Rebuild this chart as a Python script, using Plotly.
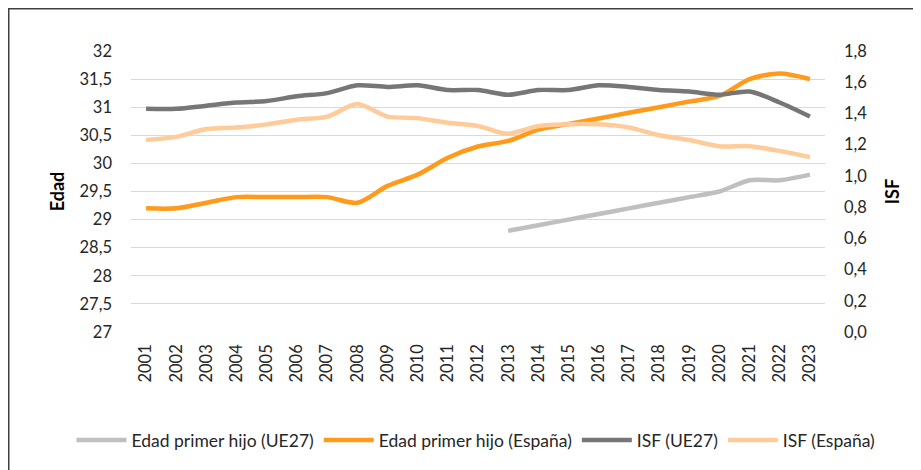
import plotly.graph_objects as go

years = [str(y) for y in range(2001, 2024)]

edad_ue27 = [None]*12 + [28.8, 28.9, 29.0, 29.1, 29.2, 29.3, 29.4, 29.5, 29.7, 29.7, 29.8]
edad_espana = [29.2, 29.2, 29.3, 29.4, 29.4, 29.4, 29.4, 29.3, 29.6, 29.8, 30.1, 30.3,
               30.4, 30.6, 30.7, 30.8, 30.9, 31.0, 31.1, 31.2, 31.5, 31.6, 31.5]
isf_ue27 = [1.43, 1.43, 1.45, 1.47, 1.48, 1.51, 1.53, 1.58, 1.57, 1.58, 1.55, 1.55,
            1.52, 1.55, 1.55, 1.58, 1.57, 1.55, 1.54, 1.52, 1.54, 1.47, 1.38]
isf_espana = [1.23, 1.25, 1.30, 1.31, 1.33, 1.36, 1.38, 1.46, 1.38, 1.37, 1.34, 1.32,
              1.27, 1.32, 1.33, 1.33, 1.31, 1.26, 1.23, 1.19, 1.19, 1.16, 1.12]

FONT = "Lato, Liberation Sans, sans-serif"
W = 4.5
WIDTH, HEIGHT = 921, 470
OFF = 8  # page body offset in the browser
PL, PR, PT, PB = 131 - OFF, 825 - OFF, 51 - OFF, 332 - OFF  # plot area in pixels

def fx(x):
    return x / WIDTH

def fy(y):
    return (HEIGHT - y) / HEIGHT

fig = go.Figure()
fig.add_trace(go.Scatter(x=years, y=edad_ue27, name="Edad primer hijo (UE27)", mode="lines",
                         line=dict(color="#BFBFBF", width=W, shape="spline", smoothing=0.8)))
fig.add_trace(go.Scatter(x=years, y=edad_espana, name="Edad primer hijo (España)", mode="lines",
                         line=dict(color="#FF9A1A", width=W, shape="spline", smoothing=0.8)))
fig.add_trace(go.Scatter(x=years, y=isf_ue27, name="ISF (UE27)", mode="lines", yaxis="y2",
                         line=dict(color="#767676", width=W, shape="spline", smoothing=0.8)))
fig.add_trace(go.Scatter(x=years, y=isf_espana, name="ISF (España)", mode="lines", yaxis="y2",
                         line=dict(color="#FFCC99", width=W, shape="spline", smoothing=0.8)))

fig.update_layout(
    width=WIDTH, height=HEIGHT,
    margin=dict(l=0, r=0, t=0, b=0, autoexpand=False),
    paper_bgcolor="white", plot_bgcolor="white",
    separators=",.",
    font=dict(family=FONT, size=16.5, color="#262626"),
    showlegend=True,
    legend=dict(orientation="h", x=fx(476 - OFF), xanchor="center", y=fy(440 - OFF),
                yanchor="middle",
                font=dict(family=FONT, size=17.5, color="#262626"), bgcolor="rgba(0,0,0,0)",
                itemwidth=50),
    xaxis=dict(type="category", domain=[fx(PL), fx(PR)], range=[-0.5, len(years) - 0.5],
               tickangle=-90, showgrid=False,
               showline=False, zeroline=False, ticks="", ticklabelstandoff=8, automargin=False),
    yaxis=dict(range=[27, 32], dtick=0.5, domain=[fy(PB), fy(PT)], showgrid=True,
               gridcolor="#D9D9D9", gridwidth=1, zeroline=False, showline=False, ticks="",
               ticklabelstandoff=18, automargin=False,
               title=dict(text="<b>Edad</b>", font=dict(size=18, color="#000000"), standoff=10)),
    yaxis2=dict(range=[0, 1.8], dtick=0.2, tickformat=".1f", overlaying="y", side="right",
                showgrid=False, zeroline=False, showline=False, ticks="", ticklabelstandoff=18,
                automargin=False,
                title=dict(text="<b>ISF</b>", font=dict(size=18, color="#000000"), standoff=20)),
    shapes=[dict(type="rect", xref="paper", yref="paper",
                 x0=fx(0.75), x1=fx(940), y0=fy(490), y1=fy(0.75),
                 line=dict(color="#404040", width=1.5), fillcolor="rgba(0,0,0,0)", layer="below")],
)

fig.write_html("out.html")
